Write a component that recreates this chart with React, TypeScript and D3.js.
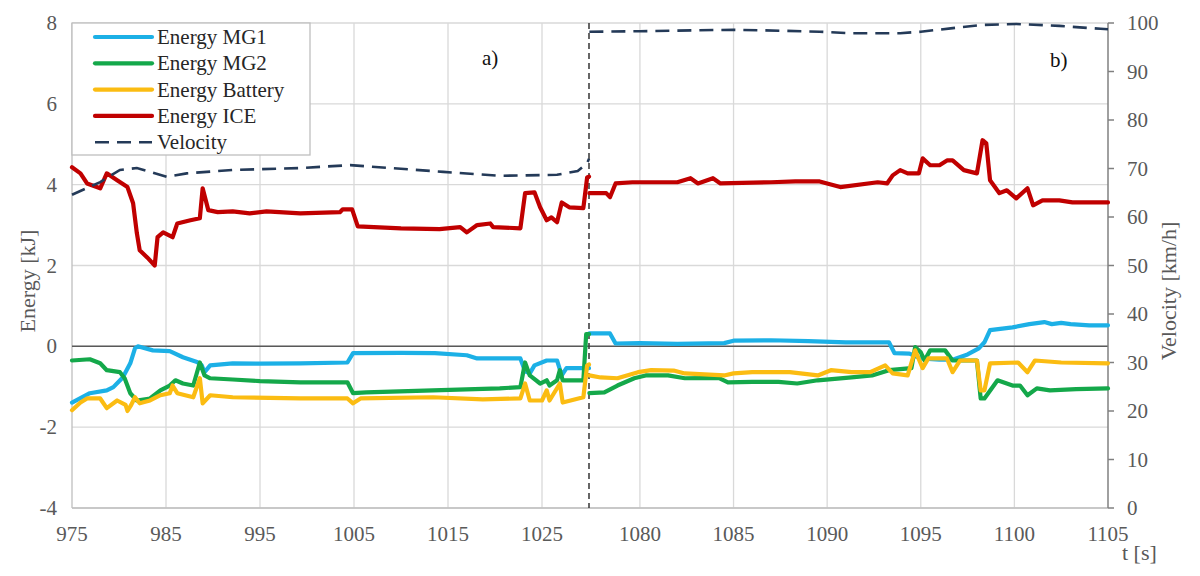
import React from 'react';
import * as d3 from 'd3';

type Pt = [number, number];

// time axis ticks (two panels: a) and b))
const ticksA = [975, 985, 995, 1005, 1015, 1025];
const ticksB = [1080, 1085, 1090, 1095, 1100, 1105];
const energyTicks = [-4, -2, 0, 2, 4, 6, 8];
const velocityTicks = [0, 10, 20, 30, 40, 50, 60, 70, 80, 90, 100];

// Energy MG1 [kJ]
const mg1A: Pt[] = [
  [975, -1.39], [976.9, -1.16], [978.7, -1.09], [979.4, -1.01], [980.4, -0.77], [981.2, -0.42],
  [981.7, -0.05], [982, 0], [983.6, -0.1], [985.4, -0.12], [986.8, -0.27], [988.3, -0.39],
  [988.8, -0.47], [989.1, -0.64], [989.7, -0.47], [992.1, -0.42], [995, -0.43], [999.3, -0.42],
  [1004.3, -0.4], [1004.9, -0.17], [1010, -0.16], [1013.6, -0.17], [1017, -0.22], [1018.1, -0.3],
  [1022.7, -0.3], [1023.2, -0.62], [1023.7, -0.67], [1024.2, -0.47], [1025.5, -0.35], [1026.6, -0.35],
  [1027.1, -0.72], [1027.6, -0.54], [1029.4, -0.54], [1030, -0.54],
];
const mg1B: Pt[] = [
  [1077.3, 0.32], [1078.4, 0.32], [1078.7, 0.07], [1080, 0.08], [1082, 0.06], [1084.5, 0.08],
  [1085, 0.14], [1087, 0.15], [1089, 0.13], [1091, 0.1], [1093.3, 0.1], [1093.6, -0.17],
  [1094.4, -0.18], [1095, -0.3], [1096, -0.33], [1096.7, -0.33], [1097.5, -0.2], [1098.1, -0.05],
  [1098.4, 0.1], [1098.7, 0.4], [1099.9, 0.47], [1100.8, 0.55], [1101.6, 0.6], [1102, 0.55],
  [1102.5, 0.58], [1103, 0.55], [1104, 0.52], [1105, 0.52],
];

// Energy MG2 [kJ]
const mg2A: Pt[] = [
  [975, -0.35], [976.9, -0.32], [978, -0.42], [978.7, -0.59], [980.1, -0.64], [980.6, -0.79],
  [981.2, -1.16], [981.9, -1.34], [983.3, -1.29], [984.4, -1.09], [985.4, -0.97], [986, -0.84],
  [986.8, -0.92], [987.9, -0.97], [988.6, -0.4], [989.1, -0.72], [989.7, -0.79], [992.1, -0.82],
  [995, -0.86], [999.3, -0.89], [1004.3, -0.89], [1004.9, -1.16], [1006.3, -1.14], [1013.4, -1.09],
  [1020.5, -1.04], [1022.7, -1.01], [1023.2, -0.4], [1023.7, -0.72], [1024.8, -0.92], [1025.5, -0.84],
  [1025.8, -0.97], [1026.6, -0.84], [1026.9, -0.59], [1027.2, -0.84], [1029.4, -0.84], [1029.7, 0.3],
  [1030, 0.3],
];
const mg2B: Pt[] = [
  [1077.3, -1.16], [1078.1, -1.14], [1078.8, -0.97], [1079.7, -0.79], [1080.3, -0.72], [1081.5, -0.72],
  [1082.4, -0.79], [1084.2, -0.78], [1084.7, -0.89], [1086, -0.88], [1087.4, -0.88], [1088.4, -0.92],
  [1089.5, -0.84], [1091.3, -0.77], [1092.4, -0.72], [1093.3, -0.59], [1094.5, -0.54], [1094.7, -0.02],
  [1095, -0.15], [1095.2, -0.35], [1095.5, -0.1], [1096.3, -0.1], [1096.7, -0.35], [1098, -0.35],
  [1098.2, -1.29], [1098.4, -1.29], [1099.1, -0.84], [1099.9, -0.97], [1100.3, -0.97], [1100.7, -1.21],
  [1101.2, -1.04], [1101.9, -1.09], [1103.3, -1.06], [1105, -1.04],
];

// Energy Battery [kJ]
const batA: Pt[] = [
  [975, -1.58], [975.9, -1.39], [976.6, -1.29], [978, -1.29], [978.7, -1.53], [979.8, -1.34],
  [980.7, -1.45], [980.9, -1.6], [981.3, -1.45], [981.7, -1.26], [982.2, -1.41], [983.3, -1.34],
  [984.4, -1.21], [985.4, -1.16], [985.7, -0.97], [986.2, -1.16], [987.9, -1.26], [988.6, -0.79],
  [988.9, -1.41], [989.7, -1.21], [992.1, -1.26], [999.3, -1.29], [1004.3, -1.29], [1004.9, -1.41],
  [1005.7, -1.29], [1013.4, -1.26], [1018.7, -1.31], [1022.7, -1.29], [1023.2, -0.92], [1023.7, -1.34],
  [1025, -1.34], [1025.5, -1.09], [1025.8, -1.34], [1026.9, -0.92], [1027.2, -1.39], [1029.4, -1.26],
  [1029.8, -0.47], [1030, -0.45],
];
const batB: Pt[] = [
  [1077.3, -0.72], [1077.9, -0.77], [1078.8, -0.79], [1079.9, -0.64], [1080.6, -0.59], [1081.8, -0.6],
  [1082.4, -0.67], [1084.5, -0.72], [1085, -0.67], [1086, -0.64], [1088, -0.64], [1089.5, -0.72],
  [1090.2, -0.59], [1091.3, -0.64], [1092.3, -0.64], [1093.1, -0.47], [1093.5, -0.67], [1094.3, -0.72],
  [1094.7, -0.1], [1095.1, -0.54], [1095.4, -0.3], [1096.4, -0.3], [1096.7, -0.64], [1097.1, -0.35],
  [1098, -0.35], [1098.2, -1.09], [1098.4, -1.09], [1098.7, -0.42], [1100.2, -0.4], [1100.7, -0.64],
  [1101.1, -0.35], [1102.5, -0.4], [1105, -0.42],
];

// Energy ICE [kJ]
const iceA: Pt[] = [
  [975, 4.43], [975.9, 4.28], [976.6, 4.03], [978, 3.91], [978.7, 4.28], [979.8, 4.11],
  [980.9, 3.94], [981.5, 3.54], [981.9, 2.8], [982.2, 2.38], [983, 2.2], [983.8, 2.0],
  [984.1, 2.7], [984.7, 2.82], [985.7, 2.7], [986.2, 3.04], [987.6, 3.12], [988.6, 3.17],
  [988.9, 3.91], [989.5, 3.37], [990.5, 3.32], [992.1, 3.34], [993.9, 3.29], [995.7, 3.34],
  [999.3, 3.29], [1003.5, 3.32], [1003.8, 3.39], [1004.8, 3.39], [1005.4, 2.97], [1010, 2.92],
  [1014.1, 2.9], [1016.3, 2.95], [1017, 2.82], [1018.1, 3.0], [1019.5, 3.04], [1019.8, 2.95],
  [1022.7, 2.92], [1023.2, 3.79], [1024.2, 3.81], [1024.8, 3.44], [1025.5, 3.12], [1026, 3.19],
  [1026.6, 3.07], [1027.1, 3.56], [1027.9, 3.44], [1029.4, 3.42], [1029.8, 4.18], [1030, 4.2],
];
const iceB: Pt[] = [
  [1077.3, 3.79], [1078.2, 3.79], [1078.4, 3.69], [1078.7, 4.03], [1079.6, 4.06], [1082, 4.06],
  [1082.7, 4.16], [1083.1, 4.03], [1083.9, 4.16], [1084.3, 4.03], [1087, 4.06], [1088.3, 4.08],
  [1089.6, 4.08], [1090.7, 3.94], [1092.7, 4.06], [1093.2, 4.03], [1093.5, 4.23], [1093.9, 4.36],
  [1094.3, 4.28], [1094.9, 4.28], [1095.1, 4.65], [1095.5, 4.48], [1096, 4.48], [1096.4, 4.6],
  [1096.7, 4.6], [1097.3, 4.36], [1098, 4.28], [1098.3, 5.1], [1098.5, 5.02], [1098.7, 4.11],
  [1099.2, 3.79], [1099.6, 3.86], [1100.1, 3.66], [1100.7, 3.91], [1101, 3.49], [1101.5, 3.61],
  [1102.4, 3.61], [1103.1, 3.56], [1105, 3.56],
];

// Velocity [km/h]
const velA: Pt[] = [
  [975, 64.6], [978, 67.2], [980.1, 69.7], [981.9, 70.1], [985.1, 68.3], [987.2, 69.0],
  [992.1, 69.7], [999.3, 70.1], [1004.6, 70.7], [1008.8, 70.1], [1014.5, 69.3], [1020.5, 68.5],
  [1026.6, 68.7], [1028.8, 69.5], [1029.8, 71.1], [1030, 72],
];
const velB: Pt[] = [
  [1077.3, 98.2], [1080, 98.3], [1083, 98.5], [1085, 98.6], [1087.6, 98.4], [1089.6, 98.2],
  [1091.2, 97.9], [1093.9, 97.9], [1095, 98.2], [1096.6, 98.9], [1098.3, 99.6], [1100.1, 99.8],
  [1102.4, 99.4], [1104.6, 98.8], [1105, 98.7],
];

const legendNames = ['Energy MG1', 'Energy MG2', 'Energy Battery', 'Energy ICE', 'Velocity'];

const W = 1200;
const H = 576;
const left = 72;
const split = 589;
const right = 1108;
const top = 23;
const bottom = 508;

const FONT = '"Liberation Serif", "Times New Roman", serif';
const GRAY = '#595959';

const colors = {
  mg1: '#1cb0e6',
  mg2: '#14a84a',
  bat: '#fbbc12',
  ice: '#c00000',
  vel: '#243a58',
};

export default function App() {
  const xA = d3.scaleLinear().domain([975, 1030]).range([left, split]);
  const xB = d3.scaleLinear().domain([1077.28, 1105]).range([split, right]);
  const yE = d3.scaleLinear().domain([-4, 8]).range([bottom, top]);
  const yV = d3.scaleLinear().domain([0, 100]).range([bottom, top]);

  const lineE = (x: d3.ScaleLinear<number, number>) =>
    d3.line<Pt>().x((d) => x(d[0])).y((d) => yE(d[1]));
  const lineV = (x: d3.ScaleLinear<number, number>) =>
    d3.line<Pt>().x((d) => x(d[0])).y((d) => yV(d[1]));

  const energySeries: { a: Pt[]; b: Pt[]; color: string }[] = [
    { a: mg1A, b: mg1B, color: colors.mg1 },
    { a: mg2A, b: mg2B, color: colors.mg2 },
    { a: batA, b: batB, color: colors.bat },
    { a: iceA, b: iceB, color: colors.ice },
  ];

  const legendColors = [colors.mg1, colors.mg2, colors.bat, colors.ice, colors.vel];

  return (
    <svg
      width={W}
      height={H}
      style={{ position: 'absolute', left: 0, top: 0, background: '#fff' }}
      fontFamily={FONT}
    >
      {/* horizontal grid */}
      {energyTicks.map((t) => (
        <line key={'hg' + t} x1={left} x2={right} y1={yE(t)} y2={yE(t)} stroke="#d9d9d9" strokeWidth={1.3} />
      ))}
      {/* vertical grid */}
      {ticksA.slice(1).map((t) => (
        <line key={'va' + t} x1={xA(t)} x2={xA(t)} y1={top} y2={bottom} stroke="#d9d9d9" strokeWidth={1.3} />
      ))}
      {ticksB.slice(0, -1).map((t) => (
        <line key={'vb' + t} x1={xB(t)} x2={xB(t)} y1={top} y2={bottom} stroke="#d9d9d9" strokeWidth={1.3} />
      ))}
      {/* axes lines */}
      <line x1={left} x2={left} y1={top} y2={bottom} stroke="#bfbfbf" strokeWidth={1.3} />
      <line x1={left} x2={right} y1={bottom} y2={bottom} stroke="#bfbfbf" strokeWidth={1.3} />
      <line x1={left} x2={right} y1={yE(0)} y2={yE(0)} stroke="#595959" strokeWidth={1.5} />
      <line x1={right} x2={right} y1={top} y2={bottom} stroke="#808080" strokeWidth={1.5} />
      {velocityTicks.map((t) => (
        <line key={'vt' + t} x1={right} x2={right + 6} y1={yV(t)} y2={yV(t)} stroke="#808080" strokeWidth={1.5} />
      ))}

      {/* panel separator */}
      <line x1={split} x2={split} y1={top} y2={bottom} stroke="#404040" strokeWidth={1.6} strokeDasharray="6,4" />

      {/* energy series */}
      {energySeries.map((s, i) => (
        <g key={'s' + i} fill="none" stroke={s.color} strokeWidth={4.2} strokeLinejoin="round" strokeLinecap="round">
          <path d={lineE(xA)(s.a) ?? ''} />
          <path d={lineE(xB)(s.b) ?? ''} />
        </g>
      ))}
      {/* velocity */}
      <g fill="none" stroke={colors.vel} strokeWidth={2.6} strokeDasharray="14,8">
        <path d={lineV(xA)(velA) ?? ''} />
        <path d={lineV(xB)(velB) ?? ''} />
      </g>

      {/* left tick labels */}
      {energyTicks.map((t) => (
        <text key={'el' + t} x={57} y={yE(t)} textAnchor="end" dominantBaseline="central" fontSize={21} fill={GRAY}>
          {t}
        </text>
      ))}
      {/* right tick labels */}
      {velocityTicks.map((t) => (
        <text key={'vl' + t} x={1127} y={yV(t)} textAnchor="start" dominantBaseline="central" fontSize={21} fill={GRAY}>
          {t}
        </text>
      ))}
      {/* bottom tick labels */}
      {ticksA.map((t) => (
        <text key={'xa' + t} x={xA(t)} y={534} textAnchor="middle" dominantBaseline="central" fontSize={21} fill={GRAY}>
          {t}
        </text>
      ))}
      {ticksB.map((t) => (
        <text key={'xb' + t} x={xB(t)} y={534} textAnchor="middle" dominantBaseline="central" fontSize={21} fill={GRAY}>
          {t}
        </text>
      ))}

      {/* axis titles */}
      <text transform="translate(27,281) rotate(-90)" textAnchor="middle" dominantBaseline="central" fontSize={22} fill={GRAY}>
        Energy [kJ]
      </text>
      <text transform="translate(1168,291) rotate(-90)" textAnchor="middle" dominantBaseline="central" fontSize={22} fill={GRAY}>
        Velocity [km/h]
      </text>
      <text x={1122} y={552} dominantBaseline="central" fontSize={22} fill={GRAY}>
        t [s]
      </text>

      {/* panel labels */}
      <text x={482} y={58} dominantBaseline="central" fontSize={21} fill="#111">
        a)
      </text>
      <text x={1050} y={60} dominantBaseline="central" fontSize={21} fill="#111">
        b)
      </text>

      {/* legend */}
      <rect x={left} y={top} width={238} height={132} fill="#fff" stroke="#bfbfbf" strokeWidth={1.3} />
      {legendNames.map((name, i) => {
        const y = 37 + i * 26.3;
        const isVel = i === 4;
        return (
          <g key={name}>
            <line
              x1={95}
              x2={152}
              y1={y}
              y2={y}
              stroke={legendColors[i]}
              strokeWidth={isVel ? 2.6 : 4.2}
              strokeLinecap={isVel ? 'butt' : 'round'}
              strokeDasharray={isVel ? '14,8' : undefined}
            />
            <text x={157} y={y} dominantBaseline="central" fontSize={21} fill="#262626">
              {name}
            </text>
          </g>
        );
      })}
    </svg>
  );
}
